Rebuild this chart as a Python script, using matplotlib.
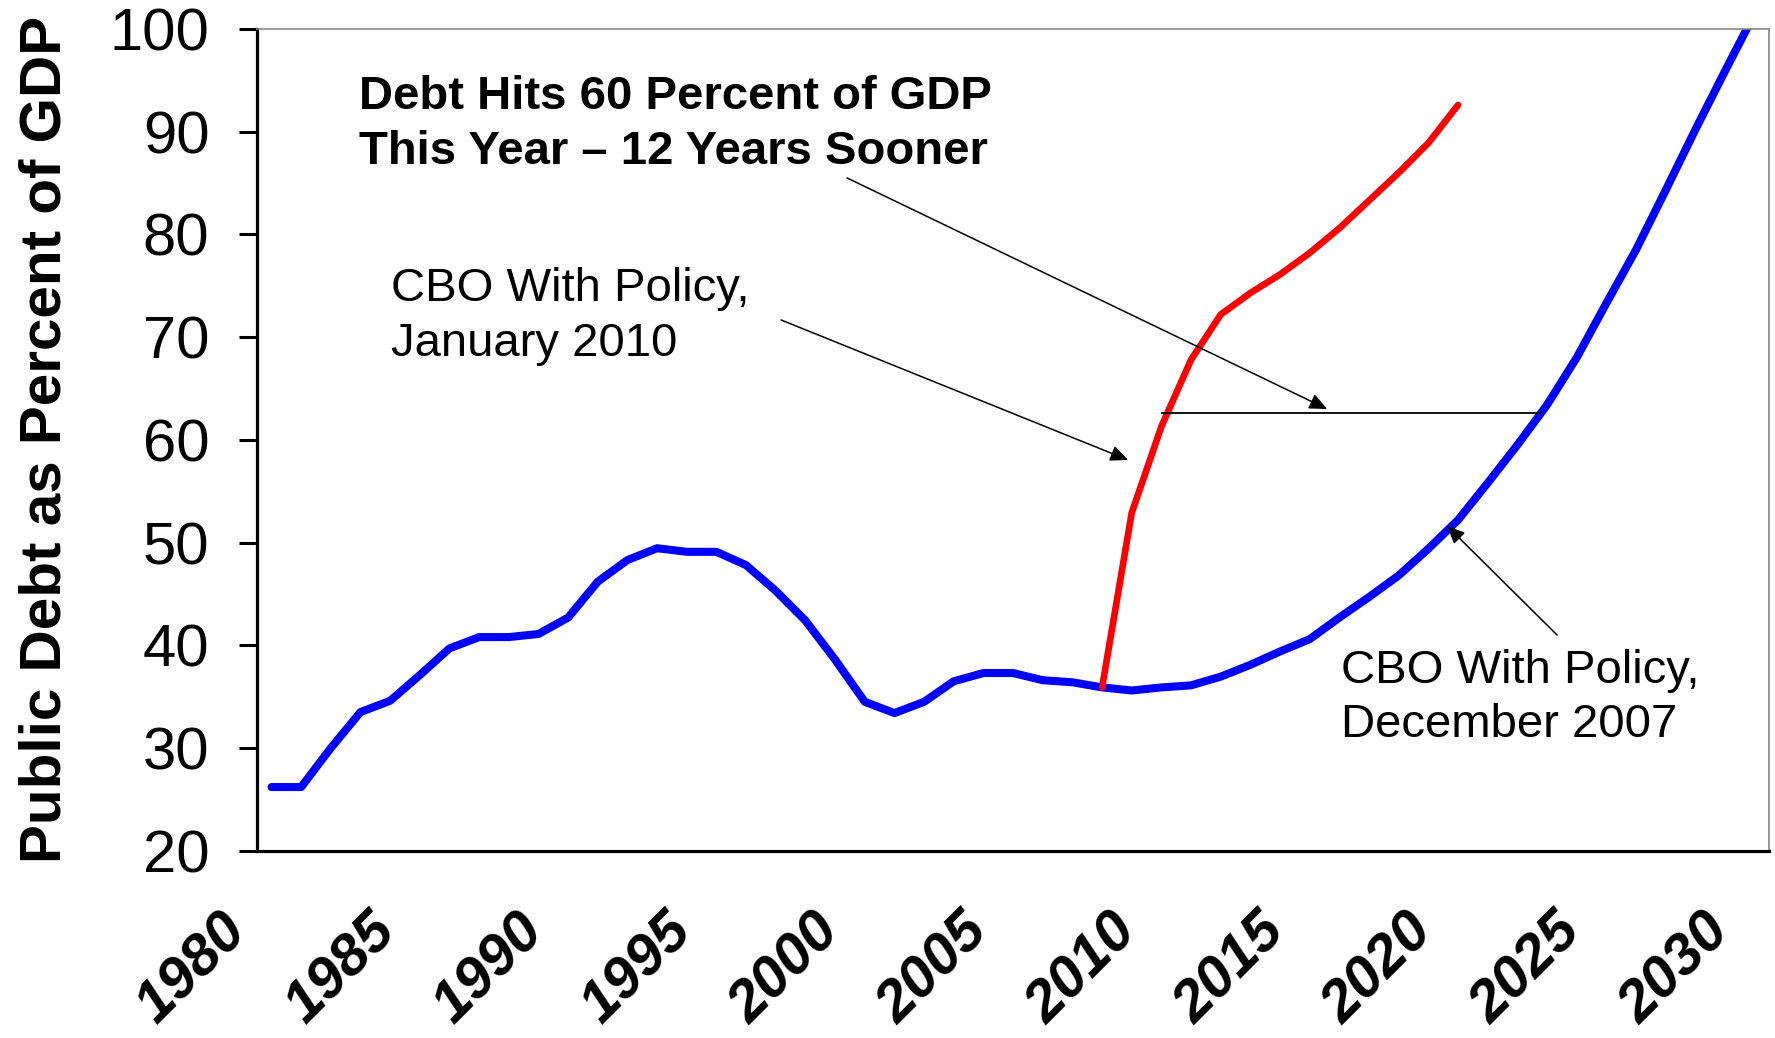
import matplotlib
matplotlib.use('Agg')
import matplotlib.pyplot as plt
import matplotlib.transforms as mtransforms

plt.rcParams['font.family'] = ['Liberation Sans', 'DejaVu Sans']

# CBO December 2007 path, 1980-2030
years_dec = list(range(1980, 2031))
debt_dec = [26.2, 26.2, 30.0, 33.5, 34.6, 37.1, 39.7, 40.8, 40.8, 41.1,
            42.7, 46.2, 48.3, 49.45, 49.1, 49.1, 47.8, 45.3, 42.4, 38.6,
            34.5, 33.4, 34.5, 36.5, 37.3, 37.3, 36.6, 36.4, 35.9, 35.6,
            35.9, 36.1, 36.95, 38.1, 39.4, 40.6, 42.7, 44.7, 46.8, 49.4,
            52.2, 55.8, 59.5, 63.4, 68.0, 73.3, 78.5, 84.3, 90.2, 95.9,
            101.5]

# CBO January 2010 path, 2008-2020
years_jan = list(range(2008, 2021))
debt_jan = [35.9, 52.9, 61.3, 67.8, 72.2, 74.3, 76.1, 78.2, 80.6, 83.3,
            86.0, 88.9, 92.6]

xtick_years = list(range(1980, 2031, 5))
ytick_vals = list(range(20, 101, 10))

title_txt = 'Debt Hits 60 Percent of GDP\nThis Year \u2013 12 Years Sooner'
jan_txt = 'CBO With Policy,\nJanuary 2010'
dec_txt = 'CBO With Policy,\nDecember 2007'

fig = plt.figure(figsize=(17.75, 10.38), dpi=100)
ax = fig.add_axes([0.1446, 0.1804, 0.9969 - 0.1446, 0.9721 - 0.1804])

ax.plot(years_dec, debt_dec, color='#0000FF', lw=5.8, solid_capstyle='round',
        solid_joinstyle='round')
ax.plot(years_jan, debt_jan, color='#FF0000', lw=4.8, solid_capstyle='round',
        solid_joinstyle='round')

ax.set_xlim(1979.5, 2030.5)
ax.set_ylim(20, 100)

# spines like the excel chart
ax.spines['left'].set_linewidth(2.3)
ax.spines['bottom'].set_linewidth(2.3)
ax.spines['top'].set_color('#888888')
ax.spines['right'].set_color('#888888')
ax.spines['top'].set_linewidth(1.2)
ax.spines['right'].set_linewidth(1.2)

ax.set_yticks(ytick_vals)
ax.tick_params(axis='y', direction='out', length=13, width=2.2, pad=21,
               labelsize=43)
ax.set_xticks(xtick_years)
ax.set_xticklabels([str(y) for y in xtick_years])
ax.tick_params(axis='x', length=0, pad=52)
# labels sit a bit left of their year, as in the original
offset = mtransforms.ScaledTranslation(-0.33, 0, fig.dpi_scale_trans)
for label in ax.get_xticklabels():
    label.set_rotation(45)
    label.set_ha('right')
    label.set_va('center')
    label.set_rotation_mode('anchor')
    label.set_fontsize(42)
    label.set_fontweight('bold')
    label.set_fontstyle('italic')
    label.set_transform(label.get_transform() + offset)

ax.set_ylabel('Public Debt as Percent of GDP', fontsize=42, fontweight='bold')
ax.yaxis.set_label_coords(-0.122, 0.5)

# texts (y = baseline of the last line)
ax.text(1982.95, 86.9, title_txt, fontsize=34, fontweight='bold',
        ha='left', va='baseline', linespacing=1.3)
ax.text(1984.03, 68.2, jan_txt, fontsize=34, ha='left', va='baseline',
        linespacing=1.3)
ax.text(2016.06, 31.1, dec_txt, fontsize=34, ha='left', va='baseline',
        linespacing=1.3)

# 60 percent marker line
ax.hlines(62.6, 2010.0, 2022.83, color='black', lw=1.3)

arrow = dict(arrowstyle='-|>,head_length=0.45,head_width=0.2',
             mutation_scale=24, color='black', lw=1.1, shrinkA=0, shrinkB=0)
ax.annotate('', xy=(2015.59, 63.0), xytext=(1999.40, 85.5), arrowprops=arrow)
ax.annotate('', xy=(2008.88, 58.04), xytext=(1997.18, 71.67), arrowprops=arrow)
ax.annotate('', xy=(2019.63, 51.62), xytext=(2023.34, 41.0), arrowprops=arrow)

fig.savefig('out.png', dpi=100)
